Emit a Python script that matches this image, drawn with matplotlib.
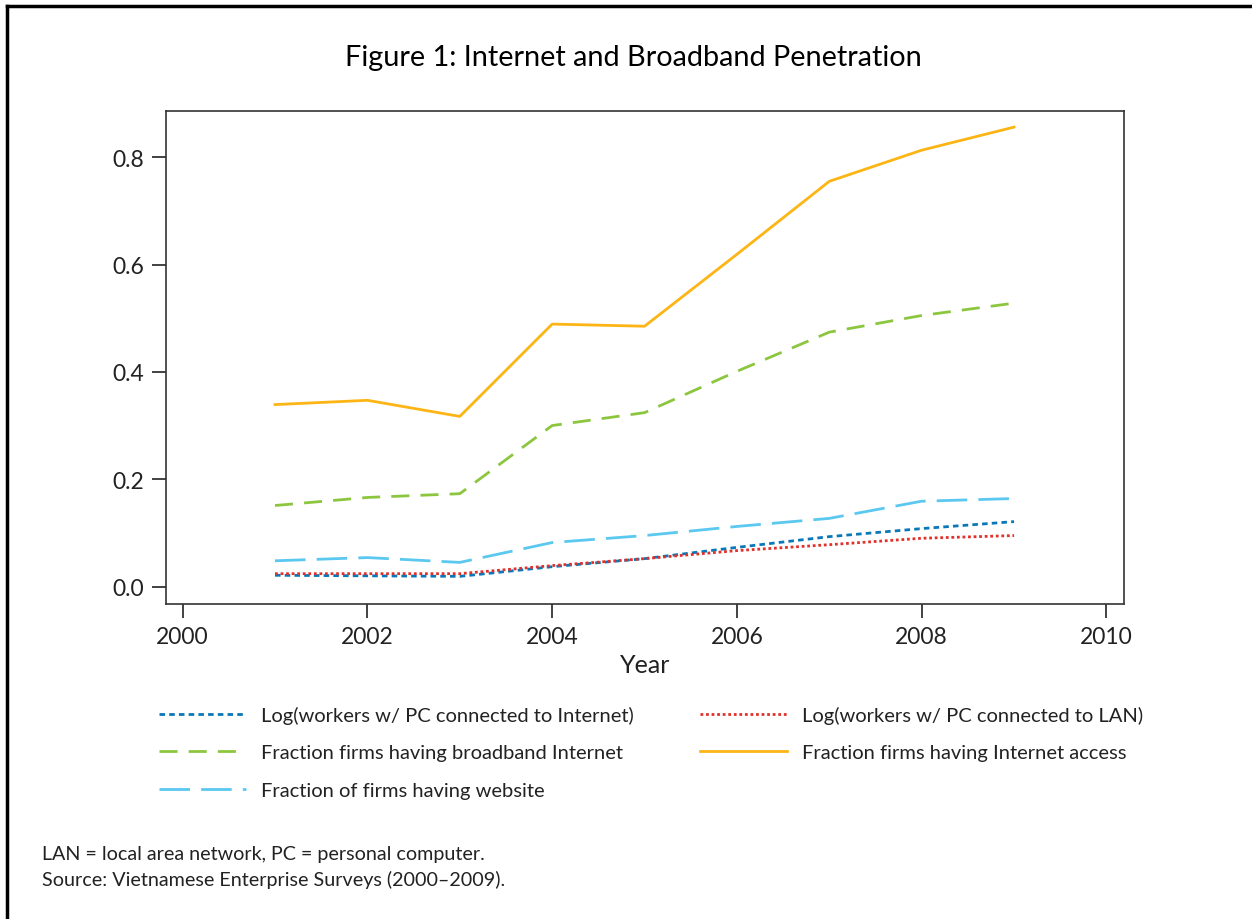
import numpy as np
import matplotlib
matplotlib.use("Agg")
from matplotlib import pyplot as plt
from matplotlib.lines import Line2D

plt.rcParams['font.family'] = ['Lato', 'DejaVu Sans']

years = [2001, 2002, 2003, 2004, 2005, 2006, 2007, 2008, 2009]
log_pc_internet = [0.021, 0.020, 0.019, 0.037, 0.052, 0.073, 0.093, 0.108, 0.121]
log_pc_lan = [0.024, 0.024, 0.024, 0.039, 0.052, 0.067, 0.078, 0.090, 0.095]
broadband = [0.151, 0.166, 0.173, 0.300, 0.324, 0.401, 0.474, 0.505, 0.528]
internet_access = [0.339, 0.347, 0.317, 0.489, 0.485, 0.619, 0.755, 0.813, 0.856]
website = [0.048, 0.054, 0.045, 0.082, 0.095, 0.112, 0.127, 0.159, 0.164]

labels = ["Log(workers w/ PC connected to Internet)",
          "Log(workers w/ PC connected to LAN)",
          "Fraction firms having broadband Internet",
          "Fraction firms having Internet access",
          "Fraction of firms having website"]

c_blue = "#0a78b8"
c_red = "#e0312b"
c_green = "#8cc63f"
c_orange = "#fdb515"
c_light = "#5bc8f0"

fig = plt.figure(figsize=(12.52, 9.2), dpi=100)
W, H = 1252, 920
ax = fig.add_axes([166 / W, 1 - 605 / H, (1124 - 166) / W, (605 - 112) / H])

lw = 2.0
l1, = ax.plot(years, log_pc_internet, color=c_blue, lw=lw, linestyle=(0, (2, 1.5)))
l2, = ax.plot(years, log_pc_lan, color=c_red, lw=lw, linestyle=(0, (1, 1)))
l3, = ax.plot(years, broadband, color=c_green, lw=lw, linestyle=(0, (6.5, 4)))
l4, = ax.plot(years, internet_access, color=c_orange, lw=lw, linestyle="-")
l5, = ax.plot(years, website, color=c_light, lw=lw, linestyle=(0, (11, 4)))

ax.set_xlim(1999.82, 2010.19)
ax.set_ylim(-0.0325, 0.886)
ax.set_xticks([2000, 2002, 2004, 2006, 2008, 2010])
ax.set_yticks([0.0, 0.2, 0.4, 0.6, 0.8])
ax.set_yticklabels(["0.0", "0.2", "0.4", "0.6", "0.8"])
ax.tick_params(axis="both", direction="out", length=10, width=1.2, labelsize=16.5,
               colors="#222222", pad=6)
for s in ax.spines.values():
    s.set_linewidth(1.2)
    s.set_color("#333333")
ax.set_xlabel("Year", fontsize=18, color="#222222", labelpad=4)

fig.text(633 / W, 1 - 58 / H, "Figure 1: Internet and Broadband Penetration",
         ha="center", va="center", fontsize=20.8, color="black")

handles = [l1, l3, l5, l2, l4]
hl = [labels[0], labels[2], labels[4], labels[1], labels[3]]
leg = fig.legend(handles, hl, ncol=2, frameon=False,
                 prop={"size": 14.5},
                 loc="upper left", bbox_to_anchor=(141 / W, 1 - 689 / H),
                 handlelength=4.3, handletextpad=0.75, columnspacing=3.3,
                 labelspacing=1.0)
for t in leg.get_texts():
    t.set_color("#222222")

fig.text(42 / W, 1 - 855 / H, "LAN = local area network, PC = personal computer.",
         ha="left", va="center", fontsize=14.2, color="#222222")
fig.text(42 / W, 1 - 880 / H, "Source: Vietnamese Enterprise Surveys (2000\u20132009).",
         ha="left", va="center", fontsize=14.2, color="#222222")

# frame lines at top and left of the page
fig.add_artist(Line2D([7 / W, 7 / W], [0, 1 - 7 / H], color="black", lw=2.5,
                      transform=fig.transFigure))
fig.add_artist(Line2D([7 / W, 1], [1 - 7 / H, 1 - 7 / H], color="black", lw=2.5,
                      transform=fig.transFigure))

fig.savefig("out.png", dpi=100)
